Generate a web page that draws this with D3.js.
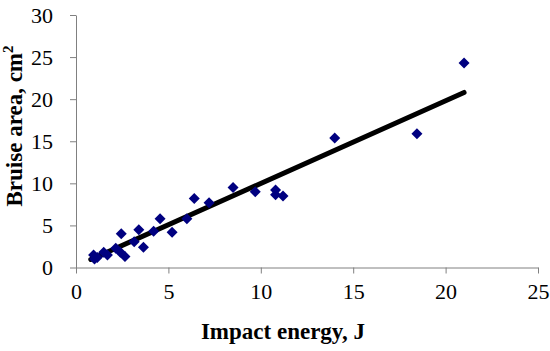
<!DOCTYPE html>
<html lang="en">
<head>
    <meta charset="UTF-8">
    <title>Bruise area vs impact energy</title>
    <script src="https://d3js.org/d3.v7.min.js"></script>
    <style>
        body { margin: 0; background: #fff; }
        svg text { font-family: "Liberation Serif", "Times New Roman", serif; fill: #000; }
        .axis path, .axis line { stroke: #808080; }
    </style>
</head>
<body>
    <svg width="550" height="351"></svg>
    <script>
        // measured points
        const energy = [0.95, 1.0, 1.15, 1.5, 1.7, 2.15, 2.4, 2.45, 2.65, 3.15, 3.4, 3.65, 4.2,
            4.55, 5.2, 6.0, 6.4, 7.2, 8.5, 9.7, 10.8, 10.8, 11.2, 14.0, 18.45, 21.0];
        const area = [1.5, 1.0, 1.2, 1.8, 1.5, 2.3, 1.8, 4.0, 1.3, 3.05, 4.5, 2.4, 4.3,
            5.8, 4.2, 5.8, 8.2, 7.7, 9.5, 9.0, 9.2, 8.65, 8.5, 15.4, 15.9, 24.3];
        // trend line ends
        const trendX = [0.8, 21];
        const trendY = [0.95, 20.8];
        const xTicks = [0, 5, 10, 15, 20, 25];
        const yTicks = [0, 5, 10, 15, 20, 25, 30];

        const svg = d3.select("svg");

        const x = d3.scaleLinear().domain([0, 25]).range([76, 538]);
        const y = d3.scaleLinear().domain([0, 30]).range([267.5, 15]);

        const xAxis = svg.append("g")
            .attr("class", "axis")
            .attr("transform", `translate(0,${y(0)})`)
            .call(d3.axisBottom(x).tickValues(xTicks).tickSize(6).tickSizeOuter(0).tickPadding(8));

        const yAxis = svg.append("g")
            .attr("class", "axis")
            .attr("transform", `translate(${x(0)},0)`)
            .call(d3.axisLeft(y).tickValues(yTicks).tickSize(6).tickSizeOuter(0).tickPadding(17));

        svg.selectAll(".axis").attr("font-family", null);
        svg.selectAll(".axis text")
            .style("font-family", "'Liberation Serif', serif")
            .style("font-size", "22px")
            .attr("fill", "#000");
        xAxis.selectAll("text").attr("dy", "0.8em");

        // trend line
        svg.append("line")
            .attr("x1", x(trendX[0]))
            .attr("y1", y(trendY[0]))
            .attr("x2", x(trendX[1]))
            .attr("y2", y(trendY[1]))
            .attr("stroke", "#000")
            .attr("stroke-width", 5)
            .attr("stroke-linecap", "round");

        // points
        const pts = energy.map((e, i) => ({x: e, y: area[i]}));
        svg.append("g")
            .selectAll("path")
            .data(pts)
            .join("path")
            .attr("d", "M0,-5.5L5.5,0L0,5.5L-5.5,0Z")
            .attr("transform", d => `translate(${x(d.x)},${y(d.y)})`)
            .attr("fill", "#000080");

        // axis titles
        svg.append("text")
            .attr("x", 283)
            .attr("y", 339)
            .attr("text-anchor", "middle")
            .attr("font-size", 23)
            .attr("font-weight", "bold")
            .text("Impact energy, J");

        const yt = svg.append("text")
            .attr("transform", "translate(22,126) rotate(-90)")
            .attr("text-anchor", "middle")
            .attr("font-size", 23)
            .attr("font-weight", "bold");
        yt.append("tspan").text("Bruise area, cm");
        yt.append("tspan").attr("font-size", 15).attr("dy", -9).text("2");
    </script>
</body>
</html>
